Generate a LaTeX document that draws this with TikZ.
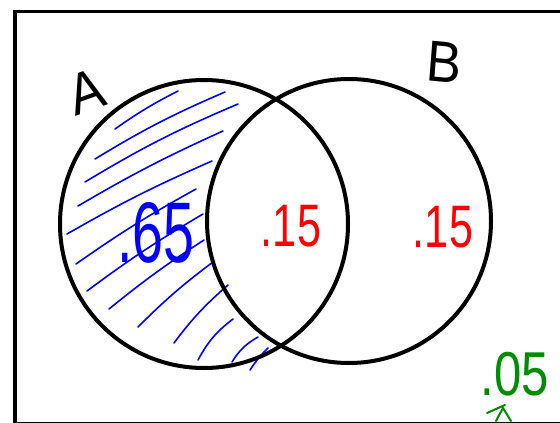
\documentclass[tikz,border=0pt]{standalone}
\usepackage{fontspec}
\setmainfont{Liberation Sans}
\begin{document}
\begin{tikzpicture}[x=1pt,y=-1pt,
  setcircle/.style={circle, draw=black, line width=4pt, minimum size=288pt, inner sep=0pt},
  hatch/.style={draw=blue, line width=1.6pt, line cap=round},
  lbl/.style={font=\fontsize{58}{58}\selectfont, inner sep=0pt, xscale=0.9},
  num/.style={inner sep=0pt, xscale=0.72}]
\useasboundingbox (0,0) rectangle (560,423);
\clip (0,0) rectangle (560,423);
\fill[white] (0,0) rectangle (560,423);
% frame
\node[draw=black, line width=3.5pt, minimum width=580pt, minimum height=412pt, inner sep=0pt, anchor=north west] (frame) at (13,9.5) {};
% hatching of A only
\path[hatch] (115,129) to[bend left=4] (178,91);
\path[hatch] (95,159) to[bend left=4] (225,92);
\path[hatch] (85,182) to[bend left=4] (238,104);
\path[hatch] (78,206) to[bend left=3] (223,131);
\path[hatch] (67,234) to[bend left=3] (212,161);
\path[hatch] (76,264) to[bend left=3] (196,189);
\path[hatch] (87,291) to[bend left=3] (203,214);
\path[hatch] (109,309) to[bend left=3] (204,240);
\path[hatch] (138,327) to[bend left=4] (213,262);
\path[hatch] (174,343) to[bend left=6] (228,285);
\path[hatch] (198,360) to[bend left=12] (233,319);
\path[hatch] (232,362) to[bend left=14] (258,337);
\path[hatch] (250,370) to[bend left=6] (268,348);
% circles
\node[setcircle] (A) at (204,224) {};
\node[setcircle, minimum size=284pt] (B) at (349,221) {};
% labels
\node[lbl, rotate=18] (la) at (87,92) {A};
\node[lbl, rotate=-5] (lb) at (444,62) {B};
\node[num, blue, xscale=0.9, font=\fontsize{86}{86}\selectfont] (n65) at (156,233) {.65};
\node[num, red, font=\fontsize{60}{60}\selectfont] (n15a) at (291,226) {.15};
\node[num, red, font=\fontsize{60}{60}\selectfont] (n15b) at (443,227) {.15};
\node[num, green!55!black, xscale=1.1, font=\fontsize{62}{62}\selectfont] (n05) at (515,374) {.05};
% small green mark
\draw[green!55!black, line width=2pt, line cap=round, line join=round]
  (487,413) -- (505,405) (496,421) -- (503,408) -- (511,421);
\end{tikzpicture}
\end{document}
